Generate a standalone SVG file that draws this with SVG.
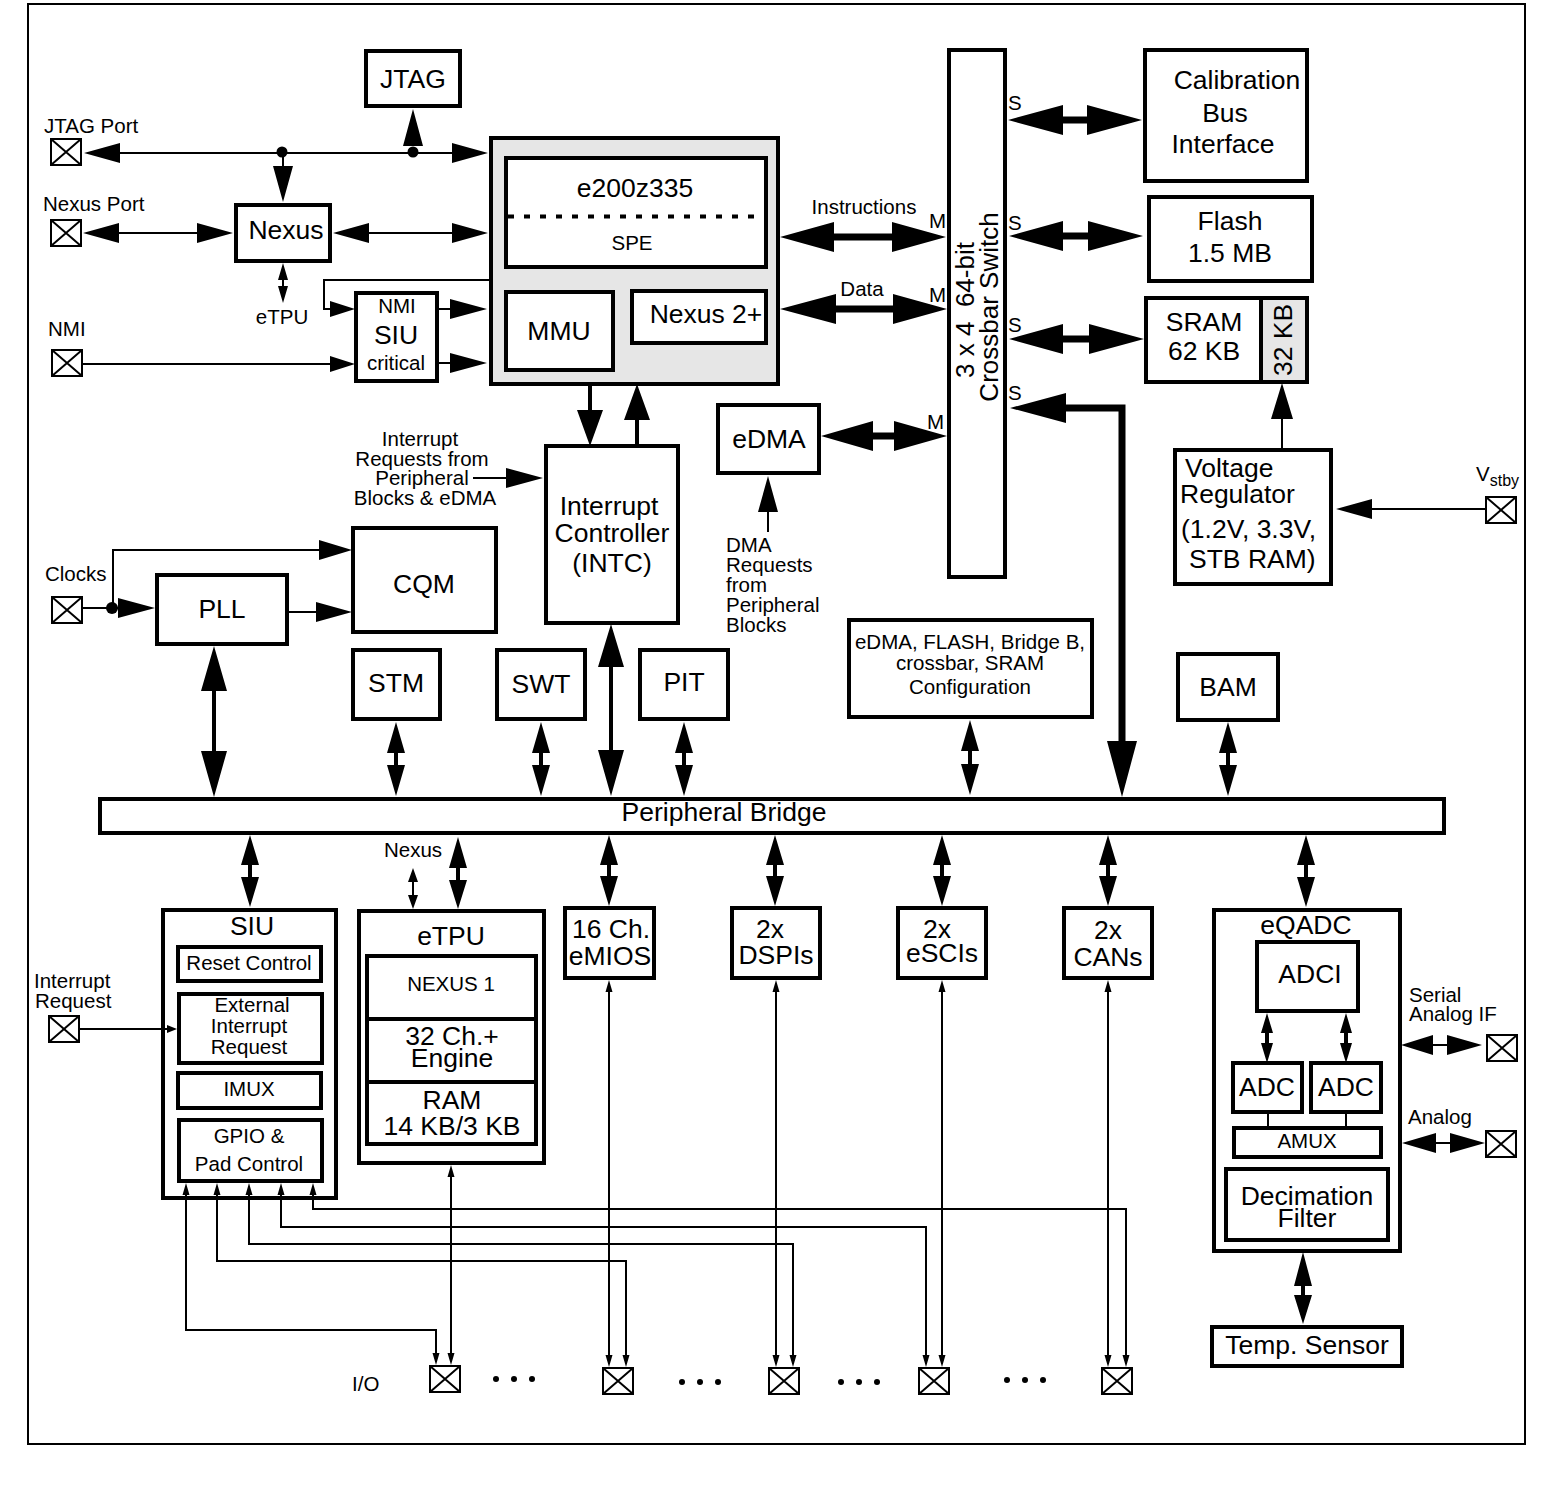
<svg xmlns="http://www.w3.org/2000/svg" width="1556" height="1485" viewBox="0 0 1556 1485">
<style>
text{font-family:"Liberation Sans",Arial,sans-serif;fill:#000;text-anchor:middle}
.t20{font-size:20.5px}.t26{font-size:26.5px}.t25{font-size:26px;white-space:pre}
.l{text-anchor:start}
.b{fill:#fff;stroke:#000;stroke-width:4}
.g{fill:#e6e6e6;stroke:#000;stroke-width:4}
.x{fill:#fff;stroke:#000;stroke-width:2}
.w{fill:none;stroke:#000;stroke-width:2}
.s5{fill:none;stroke:#000;stroke-width:4}
.s7{fill:none;stroke:#000;stroke-width:7}
.h{fill:#000;stroke:none}
</style>
<defs>
<g id="pad"><rect class="x" x="0" y="0" width="30" height="26"/><path class="w" d="M0 0L30 26M30 0L0 26"/></g>
</defs>
<rect id="frame" x="28" y="4" width="1497" height="1440" fill="#fff" stroke="#000" stroke-width="2"/>
<g id="n-jtag"><rect class="b" x="366" y="51" width="94" height="55"/><text class="t26" x="413" y="88">JTAG</text></g>
<g id="n-core"><rect class="g" x="491" y="138" width="287" height="246"/></g>
<g id="n-e200"><rect class="b" x="506" y="158" width="260" height="109"/><path d="M508 216.500H764" fill="none" stroke="#000" stroke-width="4" stroke-dasharray="6 10"/><text class="t26" x="635" y="197">e200z335</text><text class="t20" x="632" y="250">SPE</text></g>
<g id="n-mmu"><rect class="b" x="506" y="292" width="107" height="78"/><text class="t26" x="559" y="340">MMU</text></g>
<g id="n-nexus2"><rect class="b" x="632" y="291" width="134" height="52"/><text class="t26" x="706" y="323">Nexus 2+</text></g>
<g id="n-crossbar"><rect class="b" x="949" y="50" width="56" height="527"/><text class="t25" transform="translate(974 310) rotate(-90)">3 x 4  64-bit</text><text class="t25" transform="translate(998 307) rotate(-90)">Crossbar Switch</text></g>
<g id="n-calib"><rect class="b" x="1145" y="50" width="162" height="131"/><text class="t26" x="1237" y="89">Calibration</text><text class="t26" x="1225" y="122">Bus</text><text class="t26" x="1223" y="153">Interface</text></g>
<g id="n-flash"><rect class="b" x="1149" y="197" width="163" height="84"/><text class="t26" x="1230" y="230">Flash</text><text class="t26" x="1230" y="262">1.5 MB</text></g>
<g id="n-sram"><rect class="b" x="1146" y="298" width="115" height="84"/><text class="t26" x="1204" y="331">SRAM</text><text class="t26" x="1204" y="360">62 KB</text></g>
<g id="n-sram32"><rect class="g" x="1261" y="298" width="46" height="84"/><text class="t26" transform="translate(1292 340) rotate(-90)">32 KB</text></g>
<g id="n-vreg"><rect class="b" x="1175" y="450" width="156" height="134"/><text class="t26 l" x="1185" y="477">Voltage</text><text class="t26 l" x="1180" y="503">Regulator</text><text class="t26 l" x="1181" y="538">(1.2V, 3.3V,</text><text class="t26 l" x="1189" y="568">STB RAM)</text></g>
<g id="n-edma"><rect class="b" x="718" y="405" width="101" height="68"/><text class="t26" x="769" y="448">eDMA</text></g>
<g id="n-intc"><rect class="b" x="546" y="446" width="132" height="177"/><text class="t26" x="609" y="515">Interrupt</text><text class="t26" x="612" y="542">Controller</text><text class="t26" x="612" y="572">(INTC)</text></g>
<g id="n-cqm"><rect class="b" x="353" y="528" width="143" height="104"/><text class="t26" x="424" y="593">CQM</text></g>
<g id="n-pll"><rect class="b" x="157" y="575" width="130" height="69"/><text class="t26" x="222" y="618">PLL</text></g>
<g id="n-stm"><rect class="b" x="353" y="650" width="87" height="69"/><text class="t26" x="396" y="692">STM</text></g>
<g id="n-swt"><rect class="b" x="497" y="650" width="88" height="69"/><text class="t26" x="541" y="693">SWT</text></g>
<g id="n-pit"><rect class="b" x="640" y="650" width="88" height="69"/><text class="t26" x="684" y="691">PIT</text></g>
<g id="n-config"><rect class="b" x="849" y="620" width="243" height="97"/><text class="t20" x="970" y="649">eDMA, FLASH, Bridge B,</text><text class="t20" x="970" y="670">crossbar, SRAM</text><text class="t20" x="970" y="694">Configuration</text></g>
<g id="n-bam"><rect class="b" x="1178" y="654" width="100" height="66"/><text class="t26" x="1228" y="696">BAM</text></g>
<g id="n-bridge"><rect class="b" x="100" y="799" width="1344" height="34"/><text class="t26" x="724" y="821">Peripheral Bridge</text></g>
<g id="n-siu"><rect class="b" x="163" y="910" width="173" height="288"/><text class="t26" x="252" y="935">SIU</text>
<rect class="b" x="178" y="947" width="143" height="34"/><text class="t20" x="249" y="970">Reset Control</text>
<rect class="b" x="179" y="994" width="143" height="69"/><text class="t20" x="252" y="1012">External</text><text class="t20" x="249" y="1033">Interrupt</text><text class="t20" x="249" y="1054">Request</text>
<rect class="b" x="178" y="1073" width="143" height="35"/><text class="t20" x="249" y="1096">IMUX</text>
<rect class="b" x="179" y="1120" width="143" height="61"/><text class="t20" x="249" y="1143">GPIO &amp;</text><text class="t20" x="249" y="1171">Pad Control</text></g>
<g id="n-etpu"><rect class="b" x="359" y="911" width="185" height="252"/><text class="t26" x="451" y="945">eTPU</text>
<rect class="b" x="367" y="956" width="169" height="188"/><path class="s5" d="M367 1019H536M367 1082H536"/>
<text class="t20" x="451" y="991">NEXUS 1</text><text class="t26" x="452" y="1045">32 Ch.+</text><text class="t26" x="452" y="1067">Engine</text><text class="t26" x="452" y="1109">RAM</text><text class="t26" x="452" y="1135">14 KB/3 KB</text></g>
<g id="n-emios"><rect class="b" x="565" y="908" width="89" height="70"/><text class="t26" x="611" y="938">16 Ch.</text><text class="t26" x="610" y="965">eMIOS</text></g>
<g id="n-dspi"><rect class="b" x="732" y="908" width="88" height="70"/><text class="t26" x="770" y="938">2x</text><text class="t26" x="776" y="964">DSPIs</text></g>
<g id="n-esci"><rect class="b" x="898" y="908" width="88" height="70"/><text class="t26" x="937" y="938">2x</text><text class="t26" x="942" y="962">eSCIs</text></g>
<g id="n-can"><rect class="b" x="1064" y="908" width="88" height="70"/><text class="t26" x="1108" y="939">2x</text><text class="t26" x="1108" y="966">CANs</text></g>
<g id="n-eqadc"><rect class="b" x="1214" y="910" width="186" height="341"/><text class="t26" x="1306" y="934">eQADC</text>
<rect class="b" x="1257" y="942" width="101" height="69"/><text class="t26" x="1310" y="983">ADCI</text>
<rect class="b" x="1233" y="1063" width="69" height="49"/><text class="t26" x="1267" y="1096">ADC</text>
<rect class="b" x="1311" y="1063" width="70" height="49"/><text class="t26" x="1346" y="1096">ADC</text>
<rect class="b" x="1234" y="1128" width="147" height="29"/><text class="t20" x="1307" y="1148">AMUX</text>
<rect class="b" x="1226" y="1169" width="162" height="71"/><text class="t26" x="1307" y="1205">Decimation</text><text class="t26" x="1307" y="1227">Filter</text></g>
<g id="n-temp"><rect class="b" x="1212" y="1327" width="190" height="39"/><text class="t26" x="1307" y="1354">Temp. Sensor</text></g>
<g id="n-nexus"><rect class="b" x="236" y="205" width="94" height="56"/><text class="t26" x="286" y="239">Nexus</text></g>
<g id="n-siucrit"><rect class="b" x="356" y="293" width="81" height="88"/><text class="t20" x="397" y="313">NMI</text><text class="t26" x="396" y="344">SIU</text><text class="t20" x="396" y="370">critical</text></g>
<g id="ports">
<use href="#pad" x="51" y="139"/><use href="#pad" x="51" y="220"/><use href="#pad" x="52" y="350"/><use href="#pad" x="52" y="597"/><use href="#pad" x="1486" y="497"/><use href="#pad" x="49" y="1016"/><use href="#pad" x="1487" y="1035"/><use href="#pad" x="1486" y="1131"/><use href="#pad" x="430" y="1366"/><use href="#pad" x="603" y="1368"/><use href="#pad" x="769" y="1368"/><use href="#pad" x="919" y="1368"/><use href="#pad" x="1102" y="1368"/>
</g>
<g id="connectors">
<path class="w" d="M100 153H470M283 153V170M100 233H210M350 233H470M283 275V292M82 364H335M491 280H324V309H335M437 309H455M437 363H455"/>
<path class="s7" d="M820 237H910M820 309H910M860 436H910M1050 120H1100M1050 236H1100M1050 339H1100"/>
<path class="s7" d="M1050 408H1122V750"/>
<path class="w" d="M768 505V532M1282 410V449M1360 509H1486M473 478H515M82 608H125M113 608V550H330M287 612H325"/>
<path class="s5" d="M590 386V415M637 415V444M214 680V760M396 745V775M541 745V775M611 660V760M684 745V775M970 745V775M1228 745V775M250 855V885M458 860V885M609 855V885M775 855V885M942 855V885M1108 855V885M1306 855V885M1303 1280V1300M1267 1030V1045M1346 1030V1045"/>
<path class="w" d="M413 875V900M1420 1045H1460M1420 1143H1460M79 1029H170M1268 1112V1128M1346 1112V1128"/>
<path class="w" d="M609 985V1360M776 985V1360M942 985V1360M1108 985V1360M451 1170V1360M186 1190V1330H436V1358M217 1190V1261H626V1358M249 1190V1244H793V1358M281 1190V1227H926V1358M313 1190V1209H1126V1358"/>
<path class="h" d="M84 153L120 143V163ZM488 153L452 143V163ZM413 109L423 146H403ZM283 202L273 166H293Z"/>
<circle class="h" cx="282" cy="152" r="5.5"/><circle class="h" cx="413" cy="152" r="5.5"/>
<path class="h" d="M83 233L119 223V243ZM233 233L197 223V243ZM333 233L369 223V243ZM488 233L452 223V243Z"/>
<path class="h" d="M283 263L288 280H278ZM283 303L278 286H288Z"/>
<path class="h" d="M355 364L330 356V372ZM355 309L330 301V317ZM487 309L450 299V319ZM487 363L450 353V373Z"/>
<path class="h" d="M780 237L834 222V252ZM946 237L892 222V252ZM780 309L836 294V324ZM947 309L893 294V324Z"/>
<path class="h" d="M590 446L577 410H603ZM637 384L650 420H624Z"/>
<path class="h" d="M821 436L873 421V451ZM947 436L894 421V451ZM768 476L778 512H758Z"/>
<path class="h" d="M1008 120L1063 105V135ZM1142 120L1087 105V135ZM1009 236L1063 221V251ZM1143 236L1088 221V251ZM1009 339L1063 324V354ZM1144 339L1089 324V354ZM1010 408L1066 393V423ZM1122 797L1107 741H1137Z"/>
<path class="h" d="M1282 383L1293 419H1271ZM1336 509L1372 499V519ZM543 478L506 468V488Z"/>
<circle class="h" cx="112" cy="608" r="6"/>
<path class="h" d="M155 608L118 598V618ZM352 550L319 540V560ZM352 612L316 602V622Z"/>
<path class="h" d="M214 646L227 691H201ZM214 797L201 751H227ZM396 722L405 753H387ZM396 796L387 765H405ZM541 722L550 753H532ZM541 796L532 765H550ZM611 624L624 667H598ZM611 796L598 750H624ZM684 722L693 753H675ZM684 796L675 765H693ZM970 720L979 751H961ZM970 795L961 764H979ZM1228 722L1237 753H1219ZM1228 796L1219 765H1237Z"/>
<path class="h" d="M250 835L259 865H241ZM250 907L241 877H259ZM458 837L467 868H449ZM458 909L449 880H467ZM413 868L418 882H408ZM413 909L408 895H418ZM609 835L618 865H600ZM609 906L600 876H618ZM775 835L784 865H766ZM775 906L766 876H784ZM942 835L951 865H933ZM942 906L933 876H951ZM1108 835L1117 865H1099ZM1108 906L1099 876H1117ZM1306 835L1315 865H1297ZM1306 907L1297 877H1315Z"/>
<path class="h" d="M1267 1013L1273 1033H1261ZM1267 1063L1261 1043H1273ZM1346 1013L1352 1033H1340ZM1346 1063L1340 1043H1352ZM1401 1045L1433 1035V1055ZM1482 1045L1447 1035V1055ZM1402 1143L1436 1133V1153ZM1485 1143L1450 1133V1153ZM1303 1252L1312 1286H1294ZM1303 1324L1294 1295H1312ZM177 1029L167 1025V1033Z"/>
<path class="h" d="M609 980L612.500 992H605.500ZM609 1367L605.500 1355H612.500ZM776 980L779.500 992H772.500ZM776 1367L772.500 1355H779.500ZM942 980L945.500 992H938.500ZM942 1367L938.500 1355H945.500ZM1108 980L1111.500 992H1104.500ZM1108 1367L1104.500 1355H1111.500ZM451 1165L454.500 1177H447.500ZM451 1365L447.500 1353H454.500ZM436 1365L432.500 1353H439.500ZM626 1367L622.500 1355H629.500ZM793 1367L789.500 1355H796.500ZM926 1367L922.500 1355H929.500ZM1126 1367L1122.500 1355H1129.500ZM186 1183L189.500 1195H182.500ZM217 1183L220.500 1195H213.500ZM249 1183L252.500 1195H245.500ZM281 1183L284.500 1195H277.500ZM313 1183L316.500 1195H309.500Z"/>
</g>
<g id="dots" class="h"><circle cx="496" cy="1379" r="3"/><circle cx="514" cy="1379" r="3"/><circle cx="532" cy="1379" r="3"/><circle cx="682" cy="1382" r="3"/><circle cx="700" cy="1382" r="3"/><circle cx="718" cy="1382" r="3"/><circle cx="841" cy="1382" r="3"/><circle cx="859" cy="1382" r="3"/><circle cx="877" cy="1382" r="3"/><circle cx="1007" cy="1380" r="3"/><circle cx="1025" cy="1380" r="3"/><circle cx="1043" cy="1380" r="3"/></g>
<g id="labels">
<text class="t20 l" x="44" y="133">JTAG Port</text><text class="t20 l" x="43" y="211">Nexus Port</text><text class="t20 l" x="48" y="336">NMI</text><text class="t20" x="282" y="324">eTPU</text>
<text class="t20" x="864" y="214">Instructions</text><text class="t20" x="862" y="296">Data</text>
<text class="t20 l" x="929" y="228">M</text><text class="t20 l" x="929" y="302">M</text><text class="t20 l" x="927" y="429">M</text>
<text class="t20 l" x="1008" y="110">S</text><text class="t20 l" x="1008" y="230">S</text><text class="t20 l" x="1008" y="332">S</text><text class="t20 l" x="1008" y="400">S</text>
<text class="t20" x="420" y="446">Interrupt</text><text class="t20" x="422" y="466">Requests from</text><text class="t20" x="422" y="485">Peripheral</text><text class="t20" x="425" y="505">Blocks &amp; eDMA</text>
<text class="t20 l" x="726" y="552">DMA</text><text class="t20 l" x="726" y="572">Requests</text><text class="t20 l" x="726" y="592">from</text><text class="t20 l" x="726" y="612">Peripheral</text><text class="t20 l" x="726" y="632">Blocks</text>
<text class="t20 l" x="45" y="581">Clocks</text>
<text class="t20 l" x="1476" y="481">V<tspan font-size="16" dy="5">stby</tspan></text>
<text class="t20" x="413" y="857">Nexus</text>
<text class="t20 l" x="34" y="988">Interrupt</text><text class="t20 l" x="35" y="1008">Request</text>
<text class="t20 l" x="1409" y="1002">Serial</text><text class="t20 l" x="1409" y="1021">Analog IF</text><text class="t20 l" x="1408" y="1124">Analog</text>
<text class="t20 l" x="352" y="1391">I/O</text>
</g>
</svg>
